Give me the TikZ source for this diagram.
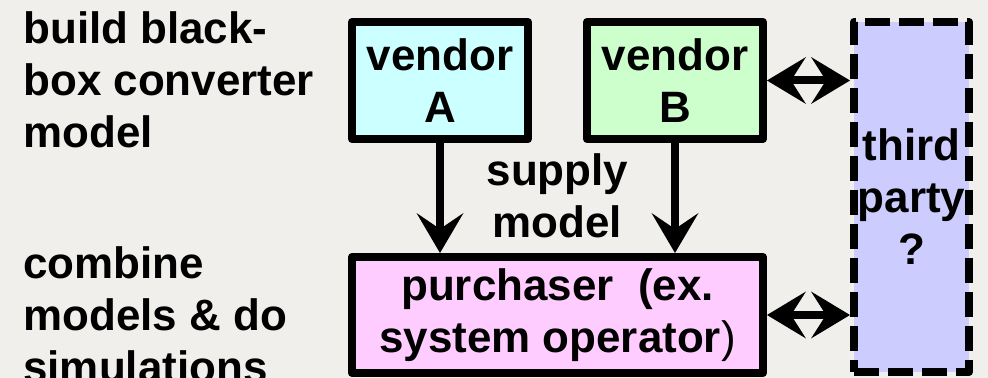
\documentclass[tikz,border=0pt]{standalone}
\usepackage{fontspec}
\setmainfont{Liberation Sans}
\usetikzlibrary{arrows.meta}
\definecolor{bgcol}{RGB}{240,239,235}
\definecolor{cyanbox}{RGB}{204,255,255}
\definecolor{greenbox}{RGB}{204,255,204}
\definecolor{pinkbox}{RGB}{255,204,255}
\definecolor{bluebox}{RGB}{204,204,255}
\tikzset{
  bigfont/.style={font=\bfseries\fontsize{25}{29.6}\selectfont},
  box/.style={draw, bigfont, line width=0.16cm, line join=round, minimum width=3.52cm, minimum height=2.34cm, inner sep=1pt, align=center},
  note/.style={bigfont, inner sep=0pt, align=left},
  flow/.style={line width=0.16cm, -{Stealth[length=0.8cm,width=0.94cm,inset=0.32cm,line width=0pt]}},
  flowboth/.style={line width=0.16cm, {Stealth[length=0.78cm,width=0.94cm,inset=0.3cm,line width=0pt]}-{Stealth[length=0.78cm,width=0.94cm,inset=0.3cm,line width=0pt]}}
}
\begin{document}
\begin{tikzpicture}
\useasboundingbox[fill=bgcol] (0,0) rectangle (19.76,7.56);
% the parties
\node[box, fill=cyanbox] (vA) at (8.8,5.95) {vendor\\A};
\node[box, fill=greenbox] (vB) at (13.5,5.95) {vendor\\B};
\node[box, fill=pinkbox, minimum width=8.22cm, minimum height=2.32cm] (pur) at (11.15,1.26) {purchaser~~(ex.\\system operator{\mdseries)}};
\node[box, fill=bluebox, dash pattern=on 0.5cm off 0.18cm, minimum width=2.3cm, minimum height=7cm] (tp) at (18.23,3.62) {third\\party\\?};
% steps on the left
\node[note, anchor=north west] (build) at (0.46,7.34) {build black-\\box converter\\model};
\node[note, anchor=north west] (combine) at (0.46,2.64) {combine\\models \& do\\simulations};
\node[note, align=center] (supply) at (11.15,3.65) {supply\\model};
% arrows
\draw[flow] (vA.south) -- (vA.south |- pur.north);
\draw[flow] (vB.south) -- (vB.south |- pur.north);
\draw[flowboth] (vB.east) -- (tp.west |- vB.east);
\draw[flowboth] (pur.east) -- (tp.west |- pur.east);
\end{tikzpicture}
\end{document}
